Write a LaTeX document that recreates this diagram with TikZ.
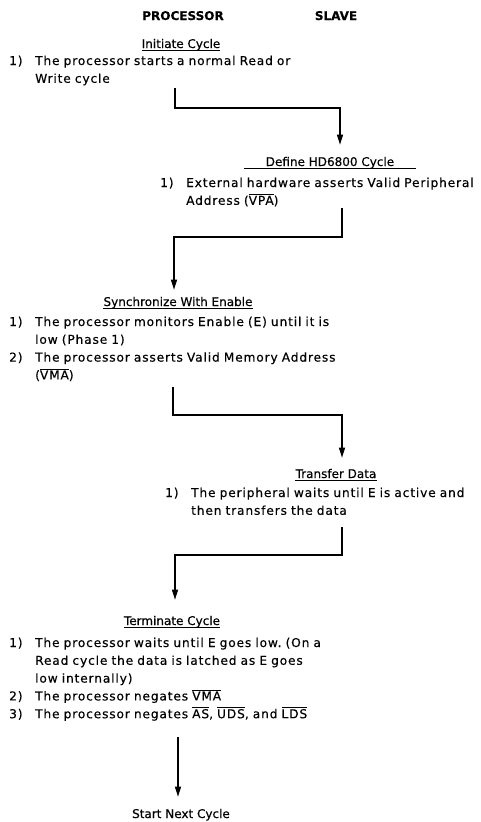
\documentclass[tikz,border=0pt]{standalone}
\usepackage{amsmath}
\usepackage{fontspec}
\setmainfont{DejaVu Sans}[FakeBold=0.4]
\newfontfamily\bodyface{DejaVu Sans}[LetterSpace=7,FakeBold=0.4]
\usetikzlibrary{arrows.meta,calc}
\frenchspacing
\newcommand{\bodyfont}{\bodyface\fontsize{12.2}{17.8}\selectfont}
\newcommand{\numitem}[2]{\noindent\hangindent=26pt\hangafter=1\makebox[26pt][l]{#1}#2\par}
\newcommand{\sigbar}[1]{$\overline{\mbox{#1}}$}
\tikzset{
  colhead/.style={
    font=\fontsize{12}{14}\selectfont\bfseries,
    anchor=base,
    inner sep=0pt
  },
  stephead/.style={
    font=\fontsize{12}{14}\selectfont,
    anchor=base,
    inner xsep=0pt,
    inner ysep=3pt
  },
  stepbody/.style={
    font=\bodyfont,
    anchor=base west,
    text width=330pt,
    align=left,
    inner sep=0pt
  },
  headrule/.style={line width=0.8pt},
  steparrow/.style={-{Triangle[length=10pt,width=6pt]},line width=1.2pt}
}

\begin{document}
\begin{tikzpicture}[x=1pt,y=-1pt]
\useasboundingbox (0,0) rectangle (481,822);
\node[colhead] (proc) at (183,20) {PROCESSOR};
\node[colhead] (slave) at (336,20) {SLAVE};

% processor: initiate
\node[stephead] (init) at (181,48) {Initiate Cycle};
\node[stepbody] (initb) at (9,65) {\numitem{1)}{The processor starts a normal Read or\newline Write cycle}};
\coordinate (s1) at (175,88);

% slave: define cycle
\node[stephead,inner xsep=22pt] (define) at (330,166) {Define HD6800 Cycle};
\node[stepbody] (defineb) at (160,187) {\numitem{1)}{External hardware asserts Valid Peripheral\newline Address (\sigbar{VPA})}};
\coordinate (s2) at (342,208);

% processor: synchronize
\node[stephead] (sync) at (178,306) {Synchronize With Enable};
\node[stepbody] (syncb) at (9,326) {\numitem{1)}{The processor monitors Enable (E) until it is\newline low (Phase 1)}
  \numitem{2)}{The processor asserts Valid Memory Address\newline (\sigbar{VMA})}};
\coordinate (s3) at (173,387);

% slave: transfer
\node[stephead] (xfer) at (336,478) {Transfer Data};
\node[stepbody] (xferb) at (165,497) {\numitem{1)}{The peripheral waits until E is active and\newline then transfers the data}};
\coordinate (s4) at (342,527);

% processor: terminate
\node[stephead] (term) at (172,625) {Terminate Cycle};
\node[stepbody] (termb) at (9,647) {\numitem{1)}{The processor waits until E goes low. (On a\newline Read cycle the data is latched as E goes\newline low internally)}
  \numitem{2)}{The processor negates \sigbar{VMA}}
  \numitem{3)}{The processor negates \sigbar{AS}, \sigbar{UDS}, and \sigbar{LDS}}};
\coordinate (s5) at (178,737);

\node[stephead] (next) at (181,818) {Start Next Cycle};

\foreach \h in {init,define,sync,xfer,term}
  \draw[headrule] ([yshift=-2pt]\h.base west) -- ([yshift=-2pt]\h.base east);

\draw[steparrow,shorten >=9pt] (s1) -- ++(0,20) -| ([xshift=10pt]define.north);
\draw[steparrow,shorten >=4pt] (s2) -- ++(0,29) -| ([xshift=-4pt]sync.north);
\draw[steparrow,shorten >=8pt] (s3) -- ++(0,28) -| ([xshift=6pt]xfer.north);
\draw[steparrow,shorten >=13pt] (s4) -- ++(0,28) -| ([xshift=3pt]term.north);
\draw[steparrow,shorten >=9pt] (s5) -- (s5 |- next.north);
\end{tikzpicture}
\end{document}
